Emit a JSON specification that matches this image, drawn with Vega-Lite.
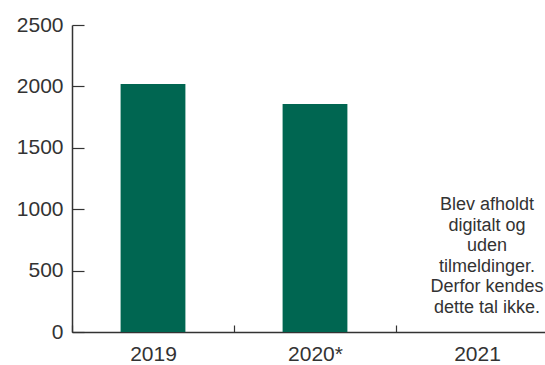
{
  "$schema": "https://vega.github.io/schema/vega-lite/v6.json",
  "width": 473,
  "height": 307,
  "autosize": "none",
  "padding": {"left": 72, "top": 25, "right": 0, "bottom": 33},
  "background": "white",
  "config": {
    "view": {"stroke": null},
    "font": "Liberation Sans",
    "axis": {
      "labelFont": "Liberation Sans",
      "labelColor": "#333333",
      "labelFontSize": 21,
      "domainColor": "#333333",
      "tickColor": "#333333",
      "domainWidth": 1.5,
      "tickWidth": 1.2,
      "grid": false,
      "title": null
    }
  },
  "data": {
    "values": [
      {"year": "2019", "value": 2020, "note": ""},
      {"year": "2020*", "value": 1857, "note": ""},
      {"year": "2021", "value": null, "note": "Blev afholdt\ndigitalt og\nuden\ntilmeldinger.\nDerfor kendes\ndette tal ikke."}
    ]
  },
  "encoding": {
    "x": {
      "field": "year",
      "type": "nominal",
      "sort": null,
      "scale": {"range": [0, 486], "paddingInner": 0, "paddingOuter": 0},
      "axis": {
        "labelAngle": 0,
        "tickBand": "extent",
        "tickSize": -7,
        "labelPadding": 18
      }
    }
  },
  "layer": [
    {
      "mark": {"type": "bar", "color": "#006651", "width": {"band": 0.4}},
      "encoding": {
        "y": {
          "field": "value",
          "type": "quantitative",
          "scale": {"domain": [0, 2500], "nice": false},
          "axis": {
            "values": [0, 500, 1000, 1500, 2000, 2500],
            "format": "d",
            "tickSize": -12,
            "labelPadding": 21
          }
        }
      }
    },
    {
      "transform": [{"filter": "datum.note != ''"}],
      "mark": {
        "type": "text",
        "fontSize": 18,
        "lineHeight": 20.5,
        "color": "#333333",
        "align": "center",
        "baseline": "alphabetic",
        "lineBreak": "\n",
        "dx": 10
      },
      "encoding": {
        "text": {"field": "note"},
        "y": {"datum": 990, "type": "quantitative"}
      }
    }
  ]
}
